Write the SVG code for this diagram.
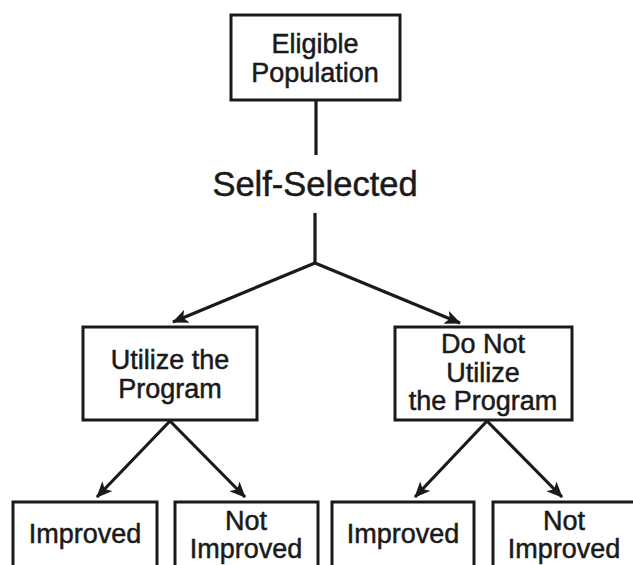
<svg xmlns="http://www.w3.org/2000/svg" width="633" height="565" viewBox="0 0 633 565">
  <style>
    .box { fill: #ffffff; stroke: #1a1a1a; stroke-width: 3; }
    .lbl { font-family: "Liberation Sans", Arial, sans-serif; font-size: 27px; fill: #1a1a1a; stroke: #1a1a1a; stroke-width: 0.5; text-anchor: middle; }
    .big { font-size: 34.5px; }
    .edge { stroke: #1a1a1a; stroke-width: 3.2; fill: none; }
  </style>
  <defs>
    <marker id="arrow" markerUnits="userSpaceOnUse" markerWidth="16" markerHeight="14" viewBox="0 0 16 14" refX="15" refY="7" orient="auto">
      <path d="M0,0 L16,7 L0,14 L4,7 Z" fill="#1a1a1a"/>
    </marker>
  </defs>
  <rect width="633" height="565" fill="#ffffff"/>

  <g id="connectors">
    <line class="edge" x1="316" y1="100" x2="316" y2="155"/>
    <line class="edge" x1="315" y1="213" x2="315" y2="264"/>
    <line class="edge" x1="315" y1="263" x2="173" y2="322" marker-end="url(#arrow)"/>
    <line class="edge" x1="315" y1="263" x2="460" y2="323" marker-end="url(#arrow)"/>
    <line class="edge" x1="170" y1="421" x2="97" y2="497" marker-end="url(#arrow)"/>
    <line class="edge" x1="170" y1="421" x2="245" y2="497" marker-end="url(#arrow)"/>
    <line class="edge" x1="487" y1="421" x2="415" y2="497" marker-end="url(#arrow)"/>
    <line class="edge" x1="487" y1="421" x2="562" y2="497" marker-end="url(#arrow)"/>
  </g>

  <g id="eligible">
    <rect class="box" x="231" y="15" width="169" height="85"/>
    <text class="lbl" x="315" y="53">Eligible</text>
    <text class="lbl" x="315" y="82">Population</text>
  </g>

  <g id="self-selected">
    <text class="lbl big" x="315" y="196">Self-Selected</text>
  </g>

  <g id="utilize">
    <rect class="box" x="83" y="327" width="174" height="93"/>
    <text class="lbl" x="170" y="369">Utilize the</text>
    <text class="lbl" x="170" y="398">Program</text>
  </g>

  <g id="not-utilize">
    <rect class="box" x="395" y="327" width="177" height="93"/>
    <text class="lbl" x="483" y="353">Do Not</text>
    <text class="lbl" x="483" y="382">Utilize</text>
    <text class="lbl" x="483" y="410">the Program</text>
  </g>

  <g id="utilize-improved">
    <rect class="box" x="13" y="502" width="144" height="80"/>
    <text class="lbl" x="85" y="543">Improved</text>
  </g>

  <g id="utilize-not-improved">
    <rect class="box" x="175" y="502" width="143" height="80"/>
    <text class="lbl" x="246" y="530">Not</text>
    <text class="lbl" x="246" y="558">Improved</text>
  </g>

  <g id="not-utilize-improved">
    <rect class="box" x="332" y="502" width="142" height="80"/>
    <text class="lbl" x="403" y="543">Improved</text>
  </g>

  <g id="not-utilize-not-improved">
    <rect class="box" x="493" y="502" width="144" height="80"/>
    <text class="lbl" x="564" y="530">Not</text>
    <text class="lbl" x="564" y="558">Improved</text>
  </g>
</svg>
